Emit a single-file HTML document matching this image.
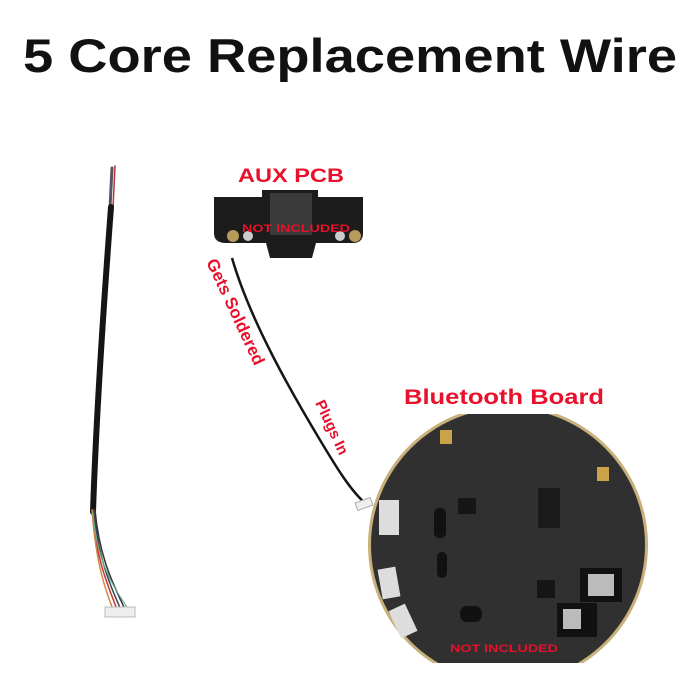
<!DOCTYPE html>
<html><head><meta charset="utf-8"><style>
html,body{margin:0;padding:0;background:#fff;}
svg{display:block;}
</style></head><body>
<svg width="700" height="700" viewBox="0 0 700 700" xmlns="http://www.w3.org/2000/svg" font-family="Liberation Sans, sans-serif">
<rect width="700" height="700" fill="#fff"/>
<text x="23" y="72" font-size="47" font-weight="bold" fill="#111" textLength="654" lengthAdjust="spacingAndGlyphs">5 Core Replacement Wire</text>

<!-- left cable -->
<g fill="none" stroke-linecap="round">
<path d="M112 168 L110 208" stroke="#556" stroke-width="3"/>
<path d="M115 166 L113 208" stroke="#b33" stroke-width="1.5"/>
<path d="M111 207 C104 300 96 420 93 512" stroke="#151515" stroke-width="6"/>
<path d="M93 510 C95 560 110 590 118 612" stroke="#c33" stroke-width="1.5"/>
<path d="M94 510 C98 560 112 590 122 612" stroke="#345" stroke-width="1.5"/>
<path d="M92 510 C96 565 106 592 114 612" stroke="#c84" stroke-width="1.5"/>
<path d="M95 510 C100 565 118 592 126 612" stroke="#333" stroke-width="1.5"/>
<path d="M93 512 C97 570 120 595 130 612" stroke="#6a8" stroke-width="1.2"/>
</g>
<rect x="105" y="607" width="30" height="10" fill="#eee" stroke="#bbb"/>

<!-- AUX PCB -->
<text x="238" y="182" font-size="19" font-weight="bold" fill="#e8102a" textLength="106" lengthAdjust="spacingAndGlyphs">AUX PCB</text>
<path d="M214 197 L262 197 L262 190 L318 190 L318 197 L363 197 L363 233 Q363 243 353 243 L316 243 L312 258 L270 258 L266 243 L226 243 Q214 243 214 233 Z" fill="#1c1c1c"/>
<rect x="270" y="193" width="42" height="42" fill="#3a3a3a"/>
<circle cx="233" cy="236" r="6" fill="#b89a5a"/>
<circle cx="355" cy="236" r="6" fill="#b89a5a"/>
<circle cx="248" cy="236" r="5" fill="#ccc"/>
<circle cx="340" cy="236" r="5" fill="#ccc"/>
<text x="242" y="232" font-size="11" font-weight="bold" fill="#e8102a" textLength="108" lengthAdjust="spacingAndGlyphs">NOT INCLUDED</text>

<!-- middle wire -->
<path d="M232 258 C250 320 290 390 320 440 C335 465 350 490 365 503" fill="none" stroke="#151515" stroke-width="2.5"/>
<rect x="356" y="500" width="16" height="8" fill="#eee" stroke="#aaa" transform="rotate(-20 364 504)"/>
<text transform="translate(206 262) rotate(65)" font-size="17" font-weight="bold" fill="#e8102a">Gets Soldered</text>
<text transform="translate(315 403) rotate(65)" font-size="15" font-weight="bold" fill="#e8102a">Plugs In</text>

<!-- Bluetooth board -->
<text x="404" y="404" font-size="21" font-weight="bold" fill="#e8102a" textLength="200" lengthAdjust="spacingAndGlyphs">Bluetooth Board</text>
<defs><clipPath id="c"><rect x="360" y="414" width="300" height="249"/></clipPath></defs>
<g clip-path="url(#c)">
<circle cx="508" cy="545" r="140" fill="#c8b07a"/>
<circle cx="508" cy="545" r="137" fill="#303030"/>
</g>
<rect x="440" y="430" width="12" height="14" fill="#c9a24a"/>
<rect x="597" y="467" width="12" height="14" fill="#c9a24a"/>
<rect x="379" y="500" width="20" height="35" fill="#ddd"/>
<rect x="380" y="568" width="18" height="30" fill="#ddd" transform="rotate(-10 389 583)"/>
<rect x="394" y="606" width="18" height="30" fill="#ddd" transform="rotate(-25 403 621)"/>
<rect x="434" y="508" width="12" height="30" rx="5" fill="#111"/>
<rect x="437" y="552" width="10" height="26" rx="5" fill="#111"/>
<rect x="460" y="606" width="22" height="16" rx="7" fill="#111"/>
<rect x="538" y="488" width="22" height="40" fill="#1a1a1a"/>
<rect x="458" y="498" width="18" height="16" fill="#161616"/>
<rect x="537" y="580" width="18" height="18" fill="#161616"/>
<rect x="580" y="568" width="42" height="34" fill="#111"/>
<rect x="588" y="574" width="26" height="22" fill="#bbb"/>
<rect x="557" y="603" width="40" height="34" fill="#111"/>
<rect x="563" y="609" width="18" height="20" fill="#bbb"/>
<text x="450" y="652" font-size="11" font-weight="bold" fill="#e8102a" textLength="108" lengthAdjust="spacingAndGlyphs">NOT INCLUDED</text>
</svg>
</body></html>
